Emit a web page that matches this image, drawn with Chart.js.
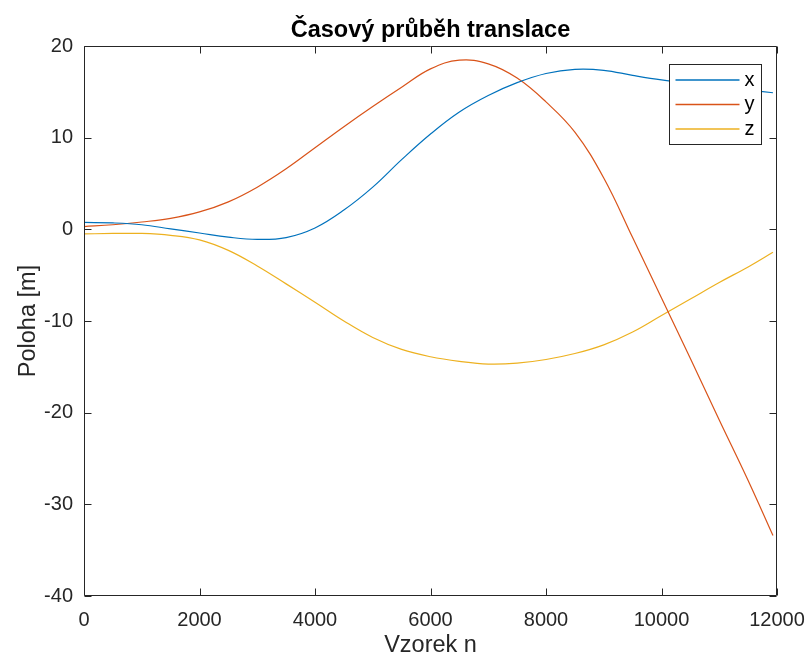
<!DOCTYPE html>
<html>
<head>
<meta charset="utf-8">
<script src="https://cdn.jsdelivr.net/npm/chart.js@4.4.1/dist/chart.umd.min.js"></script>
<style>
  html, body { margin: 0; padding: 0; background: #ffffff; }
  canvas { display: block; }
</style>
</head>
<body>
<canvas id="chart" width="809" height="657"></canvas>
<script>
// Sample index (Vzorek n)
const sampleIdx = [0, 500, 1000, 1500, 2000, 2500, 3000, 3500, 4000, 4500, 5000, 5500,
  6000, 6500, 7000, 7500, 8000, 8500, 9000, 9500, 10000, 10500, 11000, 11500, 11930];

// Translation components [m]
const posX = [0.75, 0.7, 0.5, 0.05, -0.4, -0.85, -1.1, -0.9, 0.15, 2.1, 4.6, 7.6,
  10.4, 12.8, 14.6, 16.0, 17.0, 17.45, 17.35, 16.8, 16.3, 15.9, 15.55, 15.2, 14.9];
const posY = [0.3, 0.5, 0.8, 1.2, 1.9, 3.0, 4.6, 6.6, 8.9, 11.2, 13.4, 15.5,
  17.5, 18.45, 18.05, 16.5, 13.9, 10.6, 5.6, -0.9, -7.5, -14.1, -20.8, -27.4, -33.4];
const posZ = [-0.5, -0.45, -0.45, -0.65, -1.15, -2.3, -4.0, -5.95, -7.95, -10.0, -11.8, -13.1,
  -13.9, -14.4, -14.7, -14.6, -14.2, -13.55, -12.6, -11.2, -9.4, -7.6, -5.8, -4.1, -2.5];

const seriesNames = ['x', 'y', 'z'];
const seriesColors = ['#0072BD', '#D95319', '#EDB120'];

const xTicks = [0, 2000, 4000, 6000, 8000, 10000, 12000];
const yTicks = [-40, -30, -20, -10, 0, 10, 20];

const titleText = 'Časový průběh translace';
const xTitle = 'Vzorek n';
const yTitle = 'Poloha [m]';

const FONT = '"Liberation Sans", Arial, Helvetica, sans-serif';
const AXIS_COLOR = '#262626';

function toPoints(values) {
  return sampleIdx.map((n, i) => ({ x: n, y: values[i] }));
}

// Box around the plot with inward tick marks on all four sides, title and legend
const boxPlugin = {
  id: 'matlabBox',
  afterDatasetsDraw(chart) {
    const { ctx, chartArea: a, scales } = chart;
    ctx.save();
    ctx.strokeStyle = AXIS_COLOR;
    ctx.lineWidth = 1;
    const L = Math.round(a.left) + 0.5, R = Math.round(a.right) - 0.5;
    const T = Math.round(a.top) + 0.5, B = Math.round(a.bottom) - 0.5;
    ctx.beginPath();
    ctx.rect(L, T, R - L, B - T);
    const tl = 7;
    xTicks.forEach(v => {
      const px = Math.round(scales.x.getPixelForValue(v)) + 0.5;
      ctx.moveTo(px, B); ctx.lineTo(px, B - tl);
      ctx.moveTo(px, T); ctx.lineTo(px, T + tl);
    });
    yTicks.forEach(v => {
      const py = Math.round(scales.y.getPixelForValue(v)) + 0.5;
      ctx.moveTo(L, py); ctx.lineTo(L + tl, py);
      ctx.moveTo(R, py); ctx.lineTo(R - tl, py);
    });
    ctx.stroke();
    ctx.restore();
  },
  afterDraw(chart) {
    const { ctx, chartArea: a } = chart;
    ctx.save();
    // title
    ctx.fillStyle = '#000000';
    ctx.font = 'bold 23.5px ' + FONT;
    ctx.textAlign = 'center';
    ctx.textBaseline = 'alphabetic';
    ctx.fillText(titleText, (a.left + a.right) / 2, a.top - 9);

    // legend box in the upper right corner
    const bx = 669.5, by = 64.5, bw = 92, bh = 80;
    ctx.fillStyle = '#ffffff';
    ctx.fillRect(bx, by, bw, bh);
    ctx.strokeStyle = '#262626';
    ctx.lineWidth = 1;
    ctx.strokeRect(bx, by, bw, bh);
    ctx.font = '20px ' + FONT;
    ctx.textAlign = 'left';
    ctx.textBaseline = 'middle';
    chart.data.datasets.forEach((ds, i) => {
      const y = by + 15.5 + i * 24.5;
      ctx.strokeStyle = ds.borderColor;
      ctx.lineWidth = 1.3;
      ctx.beginPath();
      ctx.moveTo(bx + 6, y);
      ctx.lineTo(bx + 70, y);
      ctx.stroke();
      ctx.fillStyle = '#000000';
      ctx.fillText(ds.label, bx + 75, y);
    });
    ctx.restore();
  }
};

new Chart(document.getElementById('chart'), {
  type: 'line',
  data: {
    datasets: [posX, posY, posZ].map((vals, i) => ({
      label: seriesNames[i],
      data: toPoints(vals),
      borderColor: seriesColors[i],
      backgroundColor: seriesColors[i],
      borderWidth: 1.2,
      pointRadius: 0,
      fill: false,
      tension: 0.4
    }))
  },
  options: {
    responsive: false,
    animation: false,
    devicePixelRatio: 1,
    layout: { padding: { top: 46, right: 32, left: 0, bottom: 0 } },
    plugins: {
      legend: { display: false },
      title: { display: false },
      tooltip: { enabled: false }
    },
    scales: {
      x: {
        type: 'linear',
        min: 0,
        max: 12000,
        afterFit(scale) { scale.height = 61; scale.paddingLeft = 0; scale.paddingRight = 0; },
        afterBuildTicks(scale) { scale.ticks = xTicks.map(v => ({ value: v })); },
        grid: { display: false, drawTicks: false },
        border: { display: false },
        ticks: {
          color: AXIS_COLOR,
          font: { family: FONT, size: 20 },
          padding: 12,
          maxRotation: 0,
          autoSkip: false,
          callback: v => String(v)
        },
        title: {
          display: true,
          text: xTitle,
          color: AXIS_COLOR,
          font: { family: FONT, size: 23.5 },
          padding: { top: 0, bottom: -3 }
        }
      },
      y: {
        type: 'linear',
        min: -40,
        max: 20,
        afterFit(scale) { scale.width = 84; scale.paddingTop = 0; scale.paddingBottom = 0; },
        afterBuildTicks(scale) { scale.ticks = yTicks.map(v => ({ value: v })); },
        grid: { display: false, drawTicks: false },
        border: { display: false },
        ticks: {
          color: AXIS_COLOR,
          font: { family: FONT, size: 20 },
          padding: 11,
          autoSkip: false,
          callback: v => String(v)
        },
        title: {
          display: true,
          text: yTitle,
          color: AXIS_COLOR,
          font: { family: FONT, size: 23.5 },
          padding: { top: 14, bottom: 0 }
        }
      }
    }
  },
  plugins: [boxPlugin]
});
</script>
</body>
</html>
